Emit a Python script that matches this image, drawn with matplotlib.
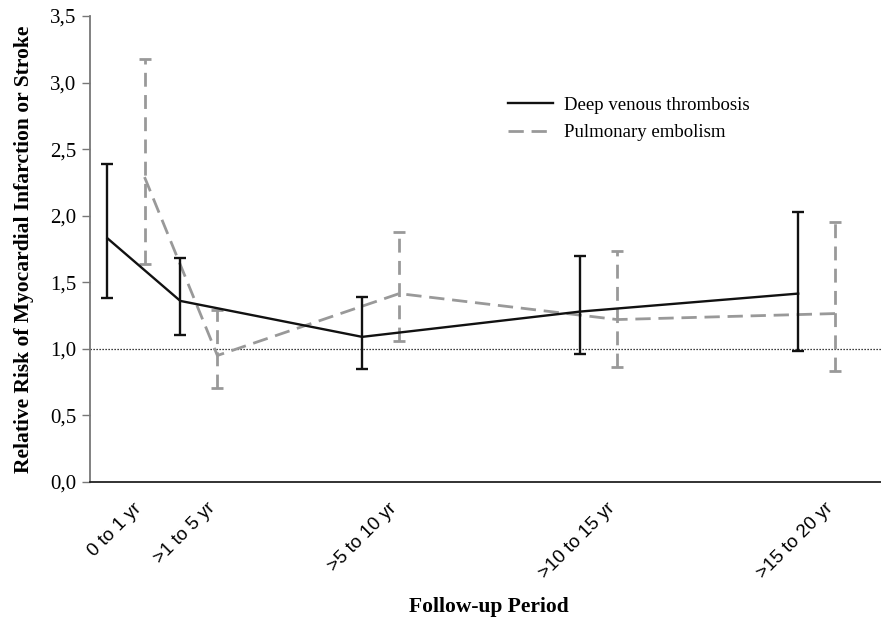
import numpy as np
import matplotlib
matplotlib.use('Agg')
import matplotlib.pyplot as plt
from matplotlib.ticker import FuncFormatter

# Data
periods = ['0 to 1 yr', '>1 to 5 yr', '>5 to 10 yr', '>10 to 15 yr', '>15 to 20 yr']
periodPos = [0.40, 2.07, 6.24, 11.24, 16.24]  # axis position of each follow-up period
peShift = 0.85

dvtRR = [1.83, 1.36, 1.09, 1.28, 1.415]
dvtLow = [1.385, 1.105, 0.845, 0.965, 0.985]
dvtHigh = [2.39, 1.68, 1.39, 1.70, 2.03]

peRR = [2.29, 0.95, 1.415, 1.22, 1.265]
peLow = [1.64, 0.705, 1.06, 0.865, 0.83]
peHigh = [3.18, 1.29, 1.88, 1.735, 1.955]

serif = ['Liberation Serif', 'DejaVu Serif']
sans = ['Liberation Sans', 'DejaVu Sans']

fig = plt.figure(figsize=(8.81, 6.18), dpi=100)
ax = fig.add_axes([0.1022, 0.2201, 0.8978, 0.7540])

xDvt = np.array(periodPos)
xPe = xDvt + peShift

# Reference line at RR = 1
ax.axhline(1.0, color='black', lw=0.9, ls=(0, (1, 1.4)), zorder=1)

# Deep venous thrombosis
ax.plot(xDvt, dvtRR, color='#111111', lw=1.7, label='Deep venous thrombosis', zorder=4)
ax.errorbar(xDvt, dvtRR,
            yerr=[np.array(dvtRR) - np.array(dvtLow), np.array(dvtHigh) - np.array(dvtRR)],
            fmt='none', ecolor='#111111', elinewidth=1.7, capsize=4.5, capthick=1.7, zorder=4)

# Pulmonary embolism
ax.plot(xPe, peRR, color='#999999', lw=2.0, ls=(0, (5.5, 2.8)), label='Pulmonary embolism', zorder=3)
peErr = ax.errorbar(xPe, peRR,
                    yerr=[np.array(peRR) - np.array(peLow), np.array(peHigh) - np.array(peRR)],
                    fmt='none', ecolor='#999999', elinewidth=2.0, capsize=4.5, capthick=2.0, zorder=3)
peErr[2][0].set_linestyle((0, (5.0, 3.0)))

# Axes
ax.set_xlim(0, 18.14)
ax.set_ylim(0, 3.5)
ax.set_yticks(np.arange(0, 3.51, 0.5))
ax.yaxis.set_major_formatter(FuncFormatter(lambda v, p: '{:.1f}'.format(v).replace('.', ',')))
ax.set_xticks(xPe - 0.12)
ax.set_xticklabels(periods, rotation=45, ha='right', va='center', rotation_mode='anchor',
                   family=sans, fontsize=13.5)
ax.tick_params(axis='x', length=0, pad=17)
ax.tick_params(axis='y', direction='out', length=6, width=1, color='#777777', pad=4, labelsize=15)
for lbl in ax.get_yticklabels():
    lbl.set_family(serif)

for side in ['top', 'right']:
    ax.spines[side].set_visible(False)
ax.spines['left'].set_color('#777777')
ax.spines['left'].set_linewidth(1.3)
ax.spines['bottom'].set_color('#222222')
ax.spines['bottom'].set_linewidth(1.3)

ax.set_ylabel('Relative Risk of Myocardial Infarction or Stroke', family=serif,
              fontweight='bold', fontsize=15.5)
ax.yaxis.set_label_coords(-0.071, 0.5)
ax.set_xlabel('Follow-up Period', family=serif, fontweight='bold', fontsize=15.5)
ax.xaxis.set_label_coords(0.504, -0.246)

leg = ax.legend(loc='upper left', bbox_to_anchor=(491 / 881, 1 - 80 / 618),
                bbox_transform=fig.transFigure, frameon=False,
                prop={'family': serif, 'size': 13.5}, handlelength=2.4,
                handletextpad=0.6, labelspacing=0.55)

fig.savefig('out.png', dpi=100)
